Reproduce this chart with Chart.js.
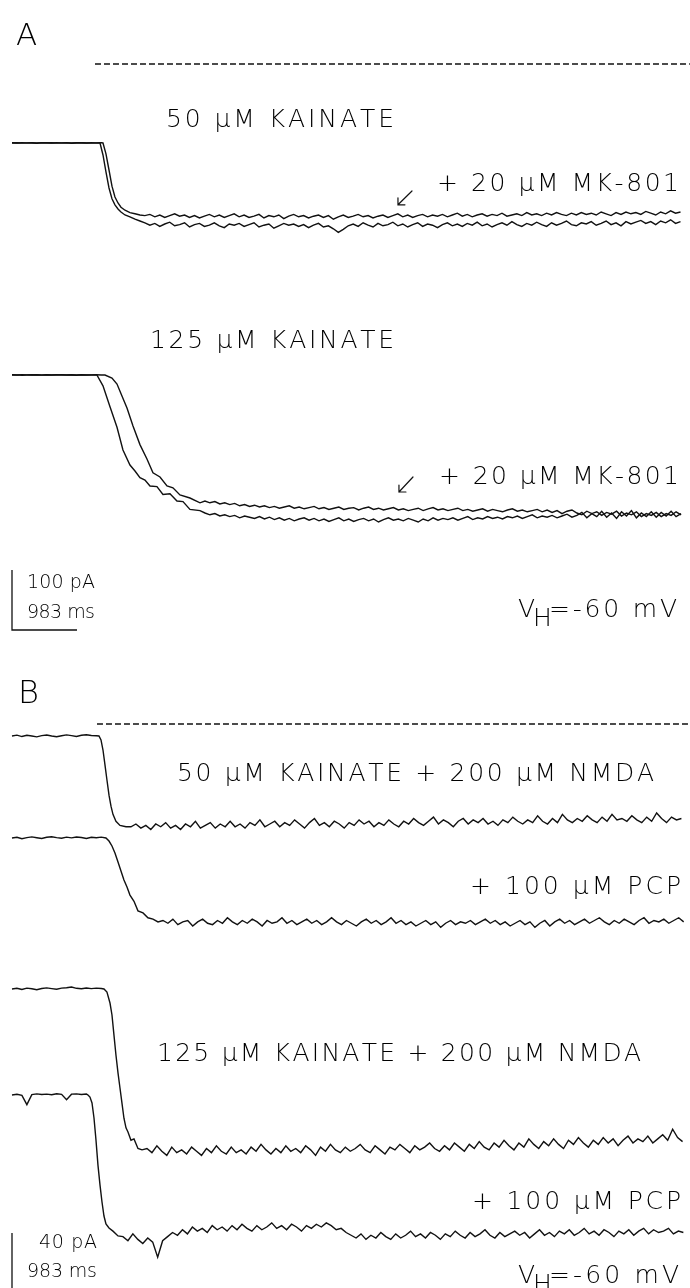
<!DOCTYPE html>
<html>
<head>
<meta charset="utf-8">
<script src="https://cdn.jsdelivr.net/npm/chart.js@4.4.1/dist/chart.umd.min.js"></script>
<style>
html,body{margin:0;padding:0;background:#fff;}
#wrap{position:relative;width:690px;height:1288px;}
canvas{display:block;}
</style>
</head>
<body>
<div id="wrap"><canvas id="c" width="690" height="1288"></canvas></div>
<script>
// ---------------- DATA (time in ms, current in pA) ----------------
const STEP_MS = 75;               // sampling step for baseline and steady-state segments
const scaleBarA = [100, 983];     // pA, ms
const scaleBarB = [40, 983];      // pA, ms
const applicationA = [1255, 10251]; // drug application bar (ms)
const applicationB = [1285, 10251];

// Panel A, 50 uM kainate (two superimposed traces)
const a1Base = [0,0.3,-0.2,0.2,0,-0.3,0.2,0,0.3,-0.2,0,0.2,-0.3,0.1,0.3,0,-0.2,0.1];
const a1OnsetT = [1331,1376,1421,1467,1512,1557,1603,1648,1709,1784,1860,1935];
const a1OnsetI = [0,-20,-48,-75,-93,-103,-110,-115,-120,-123,-127,-130];
const a1Steady = [-133,-137,-134,-139,-135,-132,-138,-136,-133,-140,
 -136,-134,-139,-137,-133,-138,-141,-135,-137,-134,
 -139,-136,-133,-140,-137,-135,-142,-138,-134,-137,
 -135,-139,-136,-141,-137,-134,-140,-138,-143,-149,
 -144,-138,-135,-139,-133,-137,-140,-134,-138,-136,
 -132,-138,-135,-140,-136,-133,-139,-135,-137,-141,
 -136,-133,-138,-135,-139,-134,-137,-132,-138,-135,
 -140,-136,-133,-137,-131,-136,-139,-134,-137,-132,
 -136,-139,-133,-137,-134,-130,-136,-138,-133,-135,
 -131,-137,-134,-130,-136,-133,-138,-131,-135,-132,
 -129,-134,-131,-136,-130,-133,-128,-134,-131];

const a2Base = [0.4,0.1,0.5,0.2,0.4,0,0.5,0.3,0.1,0.4,0.2,0.5,0,0.3,0.4,0.1,0.5,0.2,0.3];
const a2OnsetT = [1376,1421,1467,1512,1557,1603,1648,1709,1784,1860,1935];
const a2OnsetI = [0,-18,-45,-72,-90,-100,-107,-112,-116,-118,-120];
const a2Steady = [-121,-119,-123,-120,-124,-121,-118,-122,-120,-124,
 -121,-125,-122,-119,-123,-120,-124,-121,-118,-123,
 -120,-124,-122,-119,-125,-121,-123,-120,-126,-122,
 -119,-123,-121,-125,-122,-120,-124,-121,-127,-123,
 -120,-124,-122,-119,-123,-121,-125,-122,-120,-124,
 -121,-118,-123,-120,-124,-121,-119,-123,-120,-122,
 -119,-123,-120,-117,-122,-119,-123,-120,-118,-122,
 -119,-121,-117,-122,-120,-118,-121,-116,-120,-118,
 -121,-117,-120,-116,-119,-121,-117,-120,-116,-119,
 -117,-120,-115,-118,-121,-116,-119,-115,-118,-116,
 -119,-114,-117,-120,-115,-118,-113,-117,-115];

// Panel A, 125 uM kainate
const b1Base = [0,0.2,-0.3,0.1,0.3,0,-0.2,0.2,0,0.3,-0.1,0.2,0,-0.3,0.2,0.1,0,0.2];
const b1OnsetT = [1285,1376,1482,1588,1678,1784,1860,1935,2011,2087,2192,2283,2389,2495,2586,2691,2843];
const b1OnsetI = [0,-18,-53,-87,-125,-150,-160,-171,-175,-185,-186,-199,-198,-210,-211,-224,-226];
const b1Steady = [-230,-233,-231,-235,-233,-236,-234,-238,-235,-237,
 -239,-236,-240,-237,-241,-238,-242,-239,-243,-240,
 -238,-242,-239,-243,-240,-244,-241,-238,-243,-240,
 -244,-241,-239,-243,-240,-245,-241,-238,-242,-240,
 -243,-239,-242,-245,-240,-243,-238,-242,-239,-241,
 -238,-242,-239,-236,-241,-238,-240,-236,-239,-237,
 -240,-236,-238,-235,-239,-236,-233,-238,-235,-237,
 -234,-238,-235,-232,-237,-234,-229,-238,-231,-236,
 -227,-237,-230,-239,-228,-235,-226,-238,-230,-236,
 -228,-237,-229,-235,-227,-236,-231];

const b2Base = [0.3,0,0.4,0.2,0,0.3,0.1,0.4,0,0.2,0.3,0,0.4,0.1,0.3,0,0.2,0.4,0.1];
const b2OnsetT = [1406,1512,1588,1663,1739,1830,1935,2041,2132,2238,2344,2434,2540,2691,2843];
const b2OnsetI = [0,-5,-15,-35,-55,-85,-116,-140,-163,-170,-185,-188,-200,-205,-213];
const b2Steady = [-210,-213,-211,-215,-213,-216,-214,-218,-216,-219,
 -217,-220,-218,-221,-219,-222,-220,-218,-222,-220,
 -223,-221,-219,-223,-221,-224,-222,-220,-224,-222,
 -221,-225,-222,-220,-224,-222,-225,-223,-221,-225,
 -223,-226,-224,-222,-226,-223,-221,-225,-223,-226,
 -224,-222,-226,-224,-227,-225,-223,-227,-224,-226,
 -228,-225,-223,-227,-225,-228,-226,-224,-228,-225,
 -229,-226,-231,-227,-225,-230,-233,-227,-231,-228,
 -234,-229,-232,-227,-235,-230,-233,-228,-236,-231,
 -234,-229,-236,-231,-234,-228,-233];

// Panel B, 50 uM kainate + 200 uM NMDA
const c1Base = [0,0.6,-0.4,0.5,0,-0.6,0.3,0.7,0,-0.5,0.2,0.8,0.3,-0.3,0.5,0.9,0.4,0.2];
const c1OnsetT = [1315,1346,1376,1406,1436,1467,1497,1527,1572,1633,1724];
const c1OnsetI = [0,-2.9,-10.2,-21,-32,-43,-51,-57,-62,-65,-66];
const c1Steady = [-66,-64,-67,-65,-68,-64,-66,-63,-67,-65,
 -68,-64,-66,-62,-67,-65,-63,-67,-64,-66,
 -62,-66,-64,-67,-63,-65,-61,-66,-64,-62,
 -66,-63,-65,-61,-64,-67,-63,-60,-65,-63,
 -66,-62,-64,-67,-63,-65,-61,-64,-62,-66,
 -63,-65,-61,-64,-66,-62,-64,-60,-63,-65,
 -62,-59,-64,-61,-63,-66,-62,-60,-64,-61,
 -63,-60,-64,-62,-65,-61,-63,-59,-62,-64,
 -61,-63,-58,-62,-64,-60,-63,-57,-61,-63,
 -60,-62,-58,-61,-63,-59,-62,-57,-61,-60,
 -62,-58,-61,-63,-59,-62,-56,-60,-63,-59,-61,-60];

// Panel B, + 100 uM PCP (50 uM kainate + NMDA)
const c2Base = [0,0.5,-0.5,0.3,0.8,0.2,-0.4,0.5,0.9,0.3,-0.2,0.6,0.1,0.7,0.4,-0.3,0.5,0.2,0.6];
const c2OnsetT = [1421,1467,1512,1557,1603,1648,1693,1739,1784,1845,1905,1981,2056,2132,2208];
const c2OnsetI = [0,-2.2,-5.8,-10.9,-17.5,-24,-30.5,-35.6,-41.5,-46,-53,-54.5,-58,-59,-61];
const c2Steady = [-60,-62,-59,-63,-61,-60,-64,-61,-59,-62,
 -63,-60,-62,-58,-61,-63,-60,-62,-59,-61,
 -64,-60,-62,-61,-58,-62,-60,-63,-61,-59,
 -62,-60,-63,-61,-58,-61,-63,-60,-62,-64,
 -61,-59,-62,-60,-63,-61,-58,-62,-60,-63,
 -61,-64,-62,-60,-63,-61,-65,-62,-60,-63,
 -61,-62,-60,-63,-61,-59,-62,-60,-63,-61,
 -64,-62,-60,-63,-61,-65,-62,-60,-64,-61,
 -59,-62,-60,-63,-61,-59,-62,-60,-58,-61,
 -63,-60,-62,-59,-61,-63,-60,-58,-62,-60,
 -61,-59,-62,-60,-58,-61];

// Panel B, 125 uM kainate + 200 uM NMDA
const d1Base = [0,0.5,-0.3,0.6,0.2,-0.5,0.4,0.8,0.3,-0.2,0.6,0.9,1.4,0.5,0.2,0.7,0.3,0.6,0.4];
const d1OnsetT = [1391,1436,1482,1512,1542,1572,1603,1633,1663,1693,1724,1754,1799,1845,1905,1966];
const d1OnsetI = [0,-2.2,-10.2,-18.9,-33.5,-48,-61,-72,-83,-94,-101,-104,-110,-109,-116,-117];
const d1Steady = [-116,-119,-114,-118,-121,-115,-119,-117,-120,-115,
 -118,-121,-116,-119,-114,-118,-120,-115,-119,-117,
 -120,-115,-118,-113,-117,-120,-116,-119,-114,-118,
 -116,-119,-114,-117,-121,-115,-118,-113,-117,-119,
 -115,-118,-116,-113,-117,-119,-114,-117,-120,-115,
 -117,-113,-116,-119,-114,-117,-115,-112,-116,-118,
 -114,-117,-112,-115,-118,-113,-116,-111,-115,-117,
 -112,-115,-110,-114,-117,-112,-115,-109,-113,-116,
 -111,-114,-109,-113,-116,-110,-113,-108,-112,-115,
 -110,-113,-108,-112,-109,-114,-110,-107,-112,-109,
 -111,-107,-112,-109,-106,-110,-102,-108,-111];

// Panel B, + 100 uM PCP (125 uM kainate + NMDA)
const d2Base = [0,0.5,-0.3,-7,0.3,0.8,0.4,0.6,0.2,0.9,0.5,-3.5,0.6,0.8,0.4,0.7];
const d2OnsetT = [1149,1179,1210,1240,1270,1300,1331,1361,1391,1421,1467,1527,1603];
const d2OnsetI = [0,-1.5,-5.8,-16.7,-32.7,-51,-65.5,-77.8,-88,-93.8,-96.7,-99,-102.5];
const d2Steady = [-103,-106,-101,-105,-108,-104,-107,-118,-106,-103,
 -100,-102,-98,-101,-96,-99,-97,-100,-95,-98,
 -96,-99,-95,-98,-94,-97,-99,-95,-98,-96,
 -93,-97,-95,-98,-94,-96,-99,-95,-97,-94,
 -96,-93,-95,-98,-97,-100,-102,-104,-101,-105,
 -102,-104,-100,-103,-105,-101,-104,-102,-99,-103,
 -101,-104,-100,-102,-105,-101,-103,-99,-102,-104,
 -100,-103,-101,-98,-102,-104,-100,-103,-101,-99,
 -102,-100,-104,-101,-98,-102,-100,-103,-99,-101,
 -98,-102,-100,-97,-101,-99,-102,-98,-100,-103,
 -99,-101,-98,-102,-99,-97,-101,-98,-100,-99,
 -97,-101,-99,-100];

// Arrow annotations (data coordinates: ms, pA on given axis)
const arrowTailT = [6049, 6064];
const arrowTailI = [-80, -170];
const arrowTipT  = [5837, 5852];
const arrowTipI  = [-103, -195];
const arrowAxis  = ['yA1', 'yA2'];

// ---------------- LAYOUT (positions / styles) ----------------
const H = 1288, W = 690;
const X0_PX = 12;                 // pixel of t = 0
const MS_PER_PX = 983 / 65;       // from the time scale bar
const AXES = {                     // baseline pixel and px per pA for each trace
  yAappl:{base:64,   k:0.6},
  yA1:  {base:143,  k:0.6},
  yA2:  {base:375,  k:0.6},
  yAbar:{base:630,  k:0.6},
  yBappl:{base:724,  k:1.375},
  yB1:  {base:736,  k:1.375},
  yB2:  {base:838,  k:1.375},
  yB3:  {base:989,  k:1.375},
  yB4:  {base:1095, k:1.375},
  yBbar:{base:1288, k:1.375}
};
const FONT = '"DejaVu Sans", "Liberation Sans", sans-serif';
const LABELS = [
  {t:'A', x:16, y:45, w:0, size:31},
  {t:'50 μM KAINATE', x:166, y:127, w:228, size:25},
  {t:'+ 20 μM MK-801', x:437, y:191, w:242, size:25},
  {t:'125 μM KAINATE', x:150, y:348, w:244, size:25},
  {t:'+ 20 μM MK-801', x:439, y:484, w:240, size:25},
  {t:'100 pA', x:27, y:588, w:68, size:19},
  {t:'983 ms', x:27, y:618, w:68, size:19},
  {t:'V', x:518, y:617, w:0, size:25},
  {t:'H', x:533, y:626, w:0, size:25},
  {t:'=-60 mV', x:549, y:617, w:128, size:25},
  {t:'B', x:18, y:703, w:0, size:32},
  {t:'50 μM KAINATE + 200 μM NMDA', x:177, y:781, w:477, size:25},
  {t:'+ 100 μM PCP', x:470, y:894, w:211, size:25},
  {t:'125 μM KAINATE + 200 μM NMDA', x:157, y:1061, w:484, size:25},
  {t:'+ 100 μM PCP', x:472, y:1209, w:209, size:25},
  {t:'40 pA', x:39, y:1248, w:58, size:19},
  {t:'983 ms', x:27, y:1277, w:70, size:19},
  {t:'V', x:518, y:1283, w:0, size:25},
  {t:'H', x:533, y:1292, w:0, size:25},
  {t:'=-60 mV', x:549, y:1283, w:130, size:25}
];

// ---------------- BUILD ----------------
function buildTrace(base, onsetT, onsetI, steady){
  const pts = [];
  base.forEach((v,i)=>pts.push({x:i*STEP_MS, y:v}));
  onsetT.forEach((t,i)=>pts.push({x:t, y:onsetI[i]}));
  const s0 = onsetT[onsetT.length-1] + STEP_MS;
  steady.forEach((v,i)=>pts.push({x:s0 + i*STEP_MS, y:v}));
  return pts;
}
const TRACE_STYLE = {borderColor:'#111', borderWidth:1.4, pointRadius:0, fill:false, tension:0};
const traces = [
  {axis:'yA1', pts:buildTrace(a1Base,a1OnsetT,a1OnsetI,a1Steady)},
  {axis:'yA1', pts:buildTrace(a2Base,a2OnsetT,a2OnsetI,a2Steady)},
  {axis:'yA2', pts:buildTrace(b1Base,b1OnsetT,b1OnsetI,b1Steady)},
  {axis:'yA2', pts:buildTrace(b2Base,b2OnsetT,b2OnsetI,b2Steady)},
  {axis:'yB1', pts:buildTrace(c1Base,c1OnsetT,c1OnsetI,c1Steady)},
  {axis:'yB2', pts:buildTrace(c2Base,c2OnsetT,c2OnsetI,c2Steady)},
  {axis:'yB3', pts:buildTrace(d1Base,d1OnsetT,d1OnsetI,d1Steady)},
  {axis:'yB4', pts:buildTrace(d2Base,d2OnsetT,d2OnsetI,d2Steady)}
];
const datasets = traces.map(tr => Object.assign({data:tr.pts, xAxisID:'x', yAxisID:tr.axis}, TRACE_STYLE));
// application bars (dashed)
[[applicationA,'yAappl'],[applicationB,'yBappl']].forEach(([ap,ax])=>{
  datasets.push({data:[{x:ap[0],y:0},{x:ap[1],y:0}], xAxisID:'x', yAxisID:ax,
    borderColor:'#111', borderWidth:1.5, borderDash:[6,3], pointRadius:0, fill:false});
});
// scale bars
datasets.push({data:[{x:0,y:scaleBarA[0]},{x:0,y:0},{x:scaleBarA[1],y:0}], xAxisID:'x', yAxisID:'yAbar',
  borderColor:'#111', borderWidth:1.3, pointRadius:0, fill:false, borderCapStyle:'butt'});
datasets.push({data:[{x:0,y:scaleBarB[0]},{x:0,y:0}], xAxisID:'x', yAxisID:'yBbar',
  borderColor:'#111', borderWidth:1.3, pointRadius:0, fill:false});

const scales = {
  x:{type:'linear', display:false, min:-X0_PX*MS_PER_PX, max:(W-X0_PX)*MS_PER_PX}
};
Object.entries(AXES).forEach(([id,a])=>{
  const max = a.base / a.k;
  scales[id] = {type:'linear', display:false, min:max - H / a.k, max:max};
});

const annotate = {
  id:'annotate',
  afterDatasetsDraw(chart){
    const ctx = chart.ctx, xs = chart.scales.x;
    ctx.save();
    ctx.strokeStyle = '#111'; ctx.lineWidth = 1.2; ctx.lineCap='round';
    arrowAxis.forEach((ax,i)=>{
      const ys = chart.scales[ax];
      const x1 = xs.getPixelForValue(arrowTailT[i]), y1 = ys.getPixelForValue(arrowTailI[i]);
      const x2 = xs.getPixelForValue(arrowTipT[i]),  y2 = ys.getPixelForValue(arrowTipI[i]);
      ctx.beginPath();
      ctx.moveTo(x1,y1); ctx.lineTo(x2,y2);
      ctx.moveTo(x2+7,y2); ctx.lineTo(x2,y2); ctx.lineTo(x2,y2-7);
      ctx.stroke();
    });
    ctx.fillStyle = '#000';
    ctx.textBaseline = 'alphabetic';
    LABELS.forEach(L=>{
      ctx.font = `200 ${L.size}px ${FONT}`;
      const chars = Array.from(L.t);
      const advs = chars.map(ch=>ctx.measureText(ch).width);
      const natural = advs.reduce((s,v)=>s+v,0);
      const gap = (L.w > 0 && chars.length > 1) ? (L.w - natural) / (chars.length - 1) : 0;
      let x = L.x;
      chars.forEach((ch,i)=>{ ctx.fillText(ch, x, L.y); x += advs[i] + gap; });
    });
    ctx.restore();
  }
};

new Chart(document.getElementById('c'), {
  type:'line',
  data:{datasets},
  options:{
    responsive:false, animation:false, devicePixelRatio:1,
    layout:{padding:0},
    plugins:{legend:{display:false}, title:{display:false}, tooltip:{enabled:false}},
    events:[],
    scales
  },
  plugins:[annotate]
});
</script>
</body>
</html>
